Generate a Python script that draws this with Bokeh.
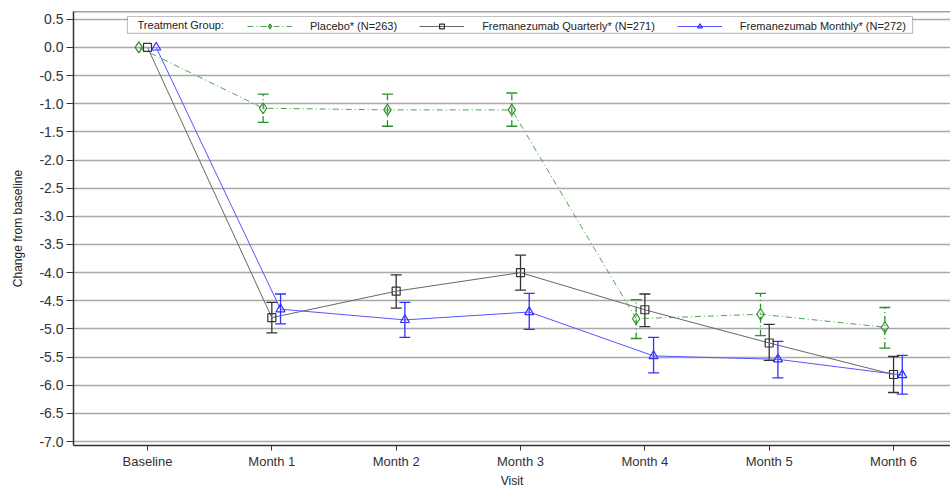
from bokeh.plotting import figure
from bokeh.models import (Range1d, FixedTicker, Whisker, TeeHead, ColumnDataSource, Title,
                          Legend, LegendItem, Span, NumeralTickFormatter, Label, BoxAnnotation)
from bokeh.embed import file_html
from bokeh.resources import INLINE

visits = ["Baseline", "Month 1", "Month 2", "Month 3", "Month 4", "Month 5", "Month 6"]

placebo_mean = [0.0, -1.08, -1.11, -1.11, -4.82, -4.74, -4.97]
placebo_lower = [0.0, -1.33, -1.40, -1.40, -5.17, -5.12, -5.34]
placebo_upper = [0.0, -0.83, -0.83, -0.81, -4.48, -4.37, -4.62]

quarterly_mean = [0.0, -4.80, -4.33, -4.00, -4.66, -5.25, -5.81]
quarterly_lower = [0.0, -5.07, -4.63, -4.31, -4.96, -5.56, -6.13]
quarterly_upper = [0.0, -4.53, -4.04, -3.69, -4.38, -4.92, -5.49]

monthly_mean = [0.0, -4.65, -4.84, -4.70, -5.48, -5.54, -5.82]
monthly_lower = [0.0, -4.91, -5.15, -5.01, -5.78, -5.87, -6.16]
monthly_upper = [0.0, -4.38, -4.53, -4.37, -5.15, -5.22, -5.47]

legend_title = "Treatment Group:"
series_labels = ["Placebo* (N=263)", "Fremanezumab Quarterly* (N=271)", "Fremanezumab Monthly* (N=272)"]
y_ticks = [0.5, 0.0, -0.5, -1.0, -1.5, -2.0, -2.5, -3.0, -3.5, -4.0, -4.5, -5.0, -5.5, -6.0, -6.5, -7.0]

FONT = "Liberation Sans"
X_LEFT, X_RIGHT = -0.595, 6.458
Y_TOP, Y_BOT = 0.638, -7.071

p = figure(width=950, height=487, output_backend="svg", toolbar_location=None,
           x_range=Range1d(X_LEFT, X_RIGHT), y_range=Range1d(Y_BOT, Y_TOP),
           min_border_left=73, min_border_right=0, min_border_top=11, min_border_bottom=0)
p.outline_line_color = None
p.background_fill_color = "white"
p.border_fill_color = "white"

# grid
p.xgrid.visible = False
p.ygrid.ticker = FixedTicker(ticks=y_ticks)
p.ygrid.grid_line_color = "#a9a9a9"
p.ygrid.grid_line_width = 1.5

# top frame line
p.add_layout(Span(location=Y_TOP, dimension="width", line_color="#444444", line_width=1.5))

# axes
p.xaxis.ticker = FixedTicker(ticks=list(range(len(visits))))
p.xaxis.major_label_overrides = {i: v for i, v in enumerate(visits)}
p.yaxis.ticker = FixedTicker(ticks=y_ticks)
p.yaxis.formatter = NumeralTickFormatter(format="0.0")
p.yaxis.axis_label = "Change from baseline"
for ax in (p.xaxis[0], p.yaxis[0]):
    ax.minor_tick_line_color = None
    ax.major_tick_in = 0
    ax.axis_line_color = "#333333"
    ax.axis_line_width = 1.5
    ax.major_tick_line_color = "#333333"
    ax.major_label_text_font = FONT
    ax.major_label_text_font_size = "13px"
    ax.major_label_text_color = "#333333"
    ax.axis_label_text_font = FONT
    ax.axis_label_text_font_size = "12px"
    ax.axis_label_text_font_style = "normal"
    ax.axis_label_text_color = "#222222"
p.yaxis.major_label_text_font_size = "14px"
p.xaxis.major_tick_out = 5
p.xaxis.major_label_standoff = 3
p.yaxis.major_tick_out = 7
p.yaxis.major_label_standoff = 3
p.yaxis.axis_label_standoff = 11

# x-axis title as a bottom title panel
p.add_layout(Title(text="Visit", align="center", standoff=0, text_font=FONT,
                   text_font_size="12px", text_font_style="normal", text_color="#222222"), "below")

specs = [
    (placebo_mean, placebo_lower, placebo_upper, -0.07, "#4ea24e", "#2a8f2a", "6 3 1 3", "diamond", 11),
    (quarterly_mean, quarterly_lower, quarterly_upper, 0.0, "#666666", "#333333", "solid", "square", 8),
    (monthly_mean, monthly_lower, monthly_upper, 0.07, "#5555ff", "#3030ff", "solid", "triangle", 9),
]

# legend frame (white box with border)
p.add_layout(BoxAnnotation(left=-0.161, right=6.153, top=0.549, bottom=0.248,
                           fill_color="white", fill_alpha=1, line_color="#333333", line_width=1.2))

# blank first legend slot, overlaid by the "Treatment Group:" text
dummy = p.line(x=[], y=[], line_alpha=0)
items = [LegendItem(label=" ", renderers=[dummy])]
for (mean, lo, up, off, lcol, ecol, dash, marker, size), lab in zip(specs, series_labels):
    xs = [i + off for i in range(len(visits))]
    src = ColumnDataSource(dict(x=xs, y=mean))
    lr = p.line("x", "y", source=src, line_color=lcol, line_width=1, line_dash=dash)
    esrc = ColumnDataSource(dict(x=xs[1:], lower=lo[1:], upper=up[1:]))
    w = Whisker(base="x", lower="lower", upper="upper", source=esrc,
                line_color=ecol, line_width=1.3, line_dash=dash,
                upper_head=TeeHead(size=11, line_color=ecol, line_width=1.3),
                lower_head=TeeHead(size=11, line_color=ecol, line_width=1.3))
    p.add_layout(w)
    sr = p.scatter("x", "y", source=src, marker=marker, size=size,
                   line_color=ecol, fill_color=None, line_width=1.2)
    items.append(LegendItem(label=lab, renderers=[lr, sr]))

legend = Legend(items=items, orientation="horizontal", location=(54, 413),
                border_line_color=None, background_fill_alpha=0,
                label_text_font=FONT, label_text_font_size="11px", label_text_color="#222222",
                glyph_width=45, glyph_height=12, label_height=12, label_width=35,
                label_standoff=18, spacing=22, padding=2, margin=0)
p.add_layout(legend, "center")

p.add_layout(Label(x=-0.08, y=0.40, text=legend_title, text_font=FONT, text_font_size="11px",
                   text_color="#222222", text_baseline="middle", text_align="left"))

open("out.html", "w").write(file_html(p, INLINE))
